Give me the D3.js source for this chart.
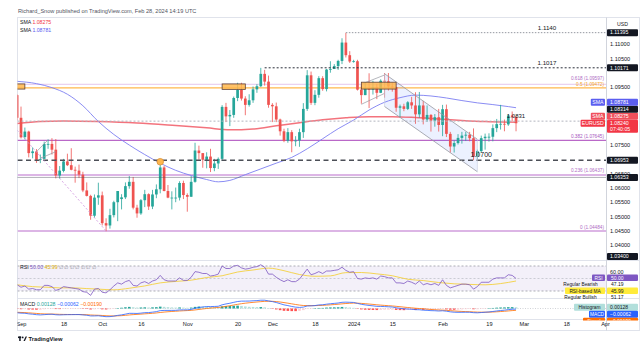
<!DOCTYPE html>
<html><head><meta charset="utf-8">
<script src="https://cdn.jsdelivr.net/npm/d3@7/dist/d3.min.js"></script>
<style>html,body{margin:0;padding:0;background:#fff}svg{display:block}</style>
</head><body>
<svg id="chart" width="640" height="349"></svg>
<script>
// ---------------- DATA ----------------
const dates = [
"2023-08-31","2023-09-01",
"2023-09-04","2023-09-05","2023-09-06","2023-09-07","2023-09-08",
"2023-09-11","2023-09-12","2023-09-13","2023-09-14","2023-09-15",
"2023-09-18","2023-09-19","2023-09-20","2023-09-21","2023-09-22",
"2023-09-25","2023-09-26","2023-09-27","2023-09-28","2023-09-29",
"2023-10-02","2023-10-03","2023-10-04","2023-10-05","2023-10-06",
"2023-10-09","2023-10-10","2023-10-11","2023-10-12","2023-10-13",
"2023-10-16","2023-10-17","2023-10-18","2023-10-19","2023-10-20",
"2023-10-23","2023-10-24","2023-10-25","2023-10-26","2023-10-27",
"2023-10-30","2023-10-31","2023-11-01","2023-11-02","2023-11-03",
"2023-11-06","2023-11-07","2023-11-08","2023-11-09","2023-11-10",
"2023-11-13","2023-11-14","2023-11-15","2023-11-16","2023-11-17",
"2023-11-20","2023-11-21","2023-11-22","2023-11-23","2023-11-24",
"2023-11-27","2023-11-28","2023-11-29","2023-11-30","2023-12-01",
"2023-12-04","2023-12-05","2023-12-06","2023-12-07","2023-12-08",
"2023-12-11","2023-12-12","2023-12-13","2023-12-14","2023-12-15",
"2023-12-18","2023-12-19","2023-12-20","2023-12-21","2023-12-22",
"2023-12-25","2023-12-26","2023-12-27","2023-12-28","2023-12-29",
"2024-01-01","2024-01-02","2024-01-03","2024-01-04","2024-01-05",
"2024-01-08","2024-01-09","2024-01-10","2024-01-11","2024-01-12",
"2024-01-15","2024-01-16","2024-01-17","2024-01-18","2024-01-19",
"2024-01-22","2024-01-23","2024-01-24","2024-01-25","2024-01-26",
"2024-01-29","2024-01-30","2024-01-31","2024-02-01","2024-02-02",
"2024-02-05","2024-02-06","2024-02-07","2024-02-08","2024-02-09",
"2024-02-12","2024-02-13","2024-02-14","2024-02-15","2024-02-16",
"2024-02-19","2024-02-20","2024-02-21","2024-02-22","2024-02-23",
"2024-02-26","2024-02-27","2024-02-28"];

const open = [1.0922,1.0843,
1.0776,1.0795,1.0720,1.0726,1.0697, 1.0700,1.0752,1.0752,1.0732,1.0642,
1.0658,1.0691,1.0678,1.0662,1.0659, 1.0645,1.0590,1.0571,1.0502,1.0565,
1.0573,1.0476,1.0468,1.0504,1.0549, 1.0560,1.0566,1.0605,1.0620,1.0530,
1.0510,1.0556,1.0577,1.0534,1.0576, 1.0594,1.0670,1.0588,1.0565,1.0565,
1.0565,1.0616,1.0574,1.0568,1.0620, 1.0729,1.0720,1.0697,1.0708,1.0668,
1.0684,1.0700,1.0881,1.0848,1.0853, 1.0912,1.0940,1.0910,1.0888,1.0904,
1.0942,1.0953,1.0996,1.0969,1.0888, 1.0883,1.0837,1.0796,1.0763,1.0793,
1.0761,1.0764,1.0793,1.0874,1.0991, 1.0895,1.0923,1.0981,1.0943,1.1011,
1.1013,1.1023,1.1041,1.1105,1.1061, 1.1039,1.1040,1.0941,1.0922,1.0946,
1.0941,1.0950,1.0930,1.0972,1.0970, 1.0952,1.0950,1.0878,1.0883,1.0874,
1.0897,1.0886,1.0855,1.0886,1.0837, 1.0853,1.0833,1.0845,1.0818,1.0873,
1.0787,1.0743,1.0755,1.0773,1.0781, 1.0784,1.0772,1.0708,1.0727,1.0772,
1.0777,1.0777,1.0807,1.0821,1.0822, 1.0820,1.0851,1.0846];

const high = [1.0925,1.0882,
1.0809,1.0798,1.0740,1.0734,1.0715, 1.0760,1.0768,1.0772,1.0769,1.0675,
1.0700,1.0718,1.0737,1.0673,1.0680, 1.0655,1.0618,1.0575,1.0576,1.0617,
1.0586,1.0493,1.0526,1.0554,1.0588, 1.0577,1.0618,1.0640,1.0637,1.0540,
1.0560,1.0592,1.0580,1.0592,1.0611, 1.0694,1.0675,1.0609,1.0587,1.0600,
1.0622,1.0624,1.0580,1.0640,1.0756, 1.0746,1.0720,1.0723,1.0735,1.0700,
1.0705,1.0887,1.0895,1.0870,1.0917, 1.0965,1.0965,1.0918,1.0925,1.0952,
1.0960,1.1017,1.1010,1.0990,1.0894, 1.0896,1.0840,1.0805,1.0807,1.0800,
1.0779,1.0805,1.0894,1.1009,1.1004, 1.0939,1.0988,1.0988,1.1013,1.1040,
1.1030,1.1045,1.1120,1.1139,1.1075, 1.1045,1.1045,1.0956,1.0966,1.0998,
1.0972,1.0961,1.0977,1.0999,1.0999, 1.0965,1.0951,1.0889,1.0892,1.0901,
1.0916,1.0932,1.0933,1.0902,1.0886, 1.0856,1.0856,1.0874,1.0888,1.0889,
1.0794,1.0764,1.0786,1.0794,1.0794, 1.0794,1.0806,1.0732,1.0781,1.0788,
1.0789,1.0820,1.0839,1.0888,1.0837, 1.0855,1.0865,1.0848];

const low = [1.0834,1.0771,
1.0768,1.0705,1.0702,1.0686,1.0685, 1.0700,1.0735,1.0715,1.0632,1.0631,
1.0653,1.0675,1.0660,1.0617,1.0633, 1.0584,1.0569,1.0488,1.0495,1.0540,
1.0468,1.0448,1.0457,1.0496,1.0483, 1.0524,1.0560,1.0596,1.0524,1.0495,
1.0505,1.0532,1.0522,1.0525,1.0563, 1.0580,1.0587,1.0563,1.0524,1.0549,
1.0555,1.0560,1.0516,1.0568,1.0617, 1.0697,1.0669,1.0667,1.0654,1.0657,
1.0665,1.0694,1.0828,1.0814,1.0843, 1.0901,1.0903,1.0852,1.0882,1.0895,
1.0930,1.0950,1.0955,1.0878,1.0828, 1.0828,1.0781,1.0758,1.0756,1.0723,
1.0744,1.0742,1.0773,1.0867,1.0888, 1.0887,1.0913,1.0937,1.0935,1.1000,
1.1013,1.1010,1.1030,1.1053,1.1034, 1.1035,1.0938,1.0892,1.0922,1.0877,
1.0924,1.0908,1.0929,1.0913,1.0938, 1.0934,1.0864,1.0845,1.0866,1.0870,
1.0874,1.0822,1.0843,1.0820,1.0829, 1.0795,1.0812,1.0795,1.0779,1.0776,
1.0722,1.0722,1.0750,1.0753,1.0762, 1.0761,1.0695,1.0698,1.0722,1.0732,
1.0760,1.0761,1.0793,1.0802,1.0796, 1.0815,1.0832,1.0796];

const close = [1.0843,1.0775,
1.0795,1.0720,1.0726,1.0697,1.0699, 1.0752,1.0752,1.0732,1.0642,1.0659,
1.0691,1.0678,1.0662,1.0659,1.0645, 1.0590,1.0571,1.0502,1.0565,1.0573,
1.0476,1.0468,1.0504,1.0549,1.0588, 1.0566,1.0605,1.0620,1.0530,1.0510,
1.0556,1.0577,1.0534,1.0576,1.0594, 1.0670,1.0588,1.0565,1.0565,1.0565,
1.0616,1.0574,1.0568,1.0620,1.0729, 1.0720,1.0697,1.0708,1.0668,1.0684,
1.0700,1.0881,1.0848,1.0853,1.0912, 1.0940,1.0910,1.0888,1.0904,1.0942,
1.0953,1.0996,1.0969,1.0888,1.0883, 1.0837,1.0796,1.0763,1.0793,1.0761,
1.0764,1.0793,1.0874,1.0991,1.0895, 1.0923,1.0981,1.0943,1.1011,1.1013,
1.1023,1.1041,1.1105,1.1061,1.1039, 1.1040,1.0941,1.0922,1.0946,1.0941,
1.0950,1.0930,1.0972,1.0970,1.0952, 1.0950,1.0878,1.0883,1.0874,1.0897,
1.0886,1.0855,1.0886,1.0837,1.0853, 1.0833,1.0845,1.0818,1.0873,1.0787,
1.0743,1.0755,1.0773,1.0781,1.0784, 1.0772,1.0708,1.0727,1.0772,1.0777,
1.0777,1.0807,1.0821,1.0822,1.0820, 1.0851,1.0846,1.0824];

const rsiValues = [40,36,
38,33,34,32,32, 39,39,37,31,33, 37,36,35,34,33, 29,28,23,33,34,
28,27,32,38,43, 41,45,47,39,38, 43,45,42,46,48, 55,48,46,46,46,
51,47,47,52,61, 60,58,58,54,55, 57,70,66,66,70, 71,67,65,66,68,
69,72,68,57,57, 52,48,45,48,45, 45,49,57,65,56, 58,61,58,62,62,
63,64,68,63,60, 61,50,49,51,50, 51,49,54,53,51, 51,43,43,42,46,
44,41,46,40,42, 40,42,39,48,39, 35,37,39,41,41, 40,33,37,44,44,
44,49,51,51,51, 56,55,50];

const rsiMaDates = ["2023-08-31","2023-09-06","2023-09-12","2023-09-15","2023-09-20","2023-09-26","2023-09-29","2023-10-05","2023-10-11","2023-10-17","2023-10-23","2023-10-27","2023-11-02","2023-11-08","2023-11-14","2023-11-20","2023-11-24","2023-11-30","2023-12-06","2023-12-12","2023-12-18","2023-12-22","2023-12-28","2024-01-03","2024-01-09","2024-01-15","2024-01-19","2024-01-25","2024-01-31","2024-02-06","2024-02-12","2024-02-16","2024-02-22","2024-02-28"];
const rsiMaValues = [40,37,36,35,35.1,33.9,33,31.9,34.4,38.1,43,45.3,47.3,51.6,54.4,60.4,63.6,66.6,62.5,56.4,53.6,54.2,59.4,59.6,57.4,54.4,48.8,46.7,43.6,41.5,40.6,39.9,41.9,45.99];

// MACD values in units of 0.0001
const macdValues = [-45,-49.2,
-50.4,-56.7,-60.5,-65.2,-67.9, -65.1,-62.1,-60.7,-66.1,-68.1, -66.4,-65.4,-65.1,-64.4,-64.2,
-67.7,-71.2,-78.6,-78.5,-76.9, -82.5,-86.6,-85.9,-80.8,-72.8, -67.5,-59.4,-51.2,-51.3,-52.4,
-49.0,-44.1,-43.2,-38.6,-33.2, -22.5,-20.4,-20.3,-20.0,-19.5, -14.9,-14.5,-14.5,-10.2,2.0,
10.8,15.8,20.4,20.4,21.6, 23.6,39.2,48.4,55.5,65.1, 74.1,77.9,78.2,78.9,81.6,
83.6,87.7,87.7,80.3,73.2, 63.1,51.1,38.5,30.7,21.6, 14.5,11.1,14.7,26.7,28.1,
31.1,37.7,39.5,45.8,50.4, 54.2,58.1,65.6,67.2,65.8, 64.1,54.2,44.3,38.0,32.2,
28.0,22.7,21.7,20.5,17.9, 15.6,7.8,2.0,-3.3,-5.5, -8.1,-12.5,-13.3,-17.7,-19.7,
-22.7,-23.8,-26.5,-24.0,-28.6, -35.3,-39.3,-40.6,-40.5,-39.7, -39.6,-44.1,-45.6,-42.7,-39.5,
-36.6,-31.5,-26.1,-21.4,-17.6, -12.0,-7.9,-6.3];
const signalValues = [-40,-41.8,
-43.5,-46.1,-49.0,-52.2,-55.4, -57.3,-58.3,-58.8,-60.2,-61.8, -62.7,-63.3,-63.6,-63.8,-63.9,
-64.6,-65.9,-68.5,-70.5,-71.8, -73.9,-76.5,-78.4,-78.9,-77.7, -75.7,-72.4,-68.2,-64.8,-62.3,
-59.7,-56.5,-53.9,-50.8,-47.3, -42.3,-37.9,-34.4,-31.5,-29.1, -26.3,-23.9,-22.0,-19.7,-15.3,
-10.1,-4.9,0.2,4.2,7.7, 10.9,16.5,22.9,29.4,36.6, 44.1,50.8,56.3,60.8,65.0,
68.7,72.5,75.5,76.5,75.8, 73.3,68.9,62.8,56.4,49.4, 42.4,36.1,31.8,30.8,30.3,
30.4,31.9,33.4,35.9,38.8, 41.9,45.1,49.2,52.8,55.4, 57.1,56.5,54.1,50.9,47.2,
43.4,39.3,35.8,32.7,29.7, 26.9,23.1,18.9,14.5,10.5, 6.8,2.9,-0.3,-3.8,-7.0,
-10.1,-12.8,-15.6,-17.3,-19.5, -22.7,-26.0,-28.9,-31.2,-32.9, -34.2,-36.2,-38.1,-39.0,-39.1,
-38.6,-37.2,-35.0,-32.3,-29.4, -25.9,-22.3,-19.1];

const smaSlowDates = ["2023-08-31","2023-09-08","2023-09-18","2023-09-29","2023-10-13","2023-10-27","2023-11-08","2023-11-16","2023-11-24","2023-12-04","2023-12-12","2023-12-20","2023-12-28","2024-01-05","2024-01-15","2024-01-23","2024-01-31","2024-02-08","2024-02-16","2024-02-28"];
const smaSlowValues = [1.0823,1.0830,1.0832,1.0830,1.0825,1.0816,1.0808,1.0801,1.0804,1.0815,1.0826,1.0836,1.0843,1.0847,1.0847,1.0844,1.0839,1.0834,1.0830,1.08275];
const smaFastDates = ["2023-08-31","2023-09-07","2023-09-13","2023-09-19","2023-09-25","2023-09-29","2023-10-05","2023-10-11","2023-10-17","2023-10-23","2023-10-27","2023-11-02","2023-11-08","2023-11-13","2023-11-16","2023-11-22","2023-11-28","2023-12-04","2023-12-08","2023-12-14","2023-12-20","2023-12-26","2024-01-01","2024-01-05","2024-01-11","2024-01-17","2024-01-23","2024-01-29","2024-02-02","2024-02-08","2024-02-14","2024-02-20","2024-02-26","2024-02-28"];
const smaFastValues = [1.0970,1.0962,1.0948,1.0925,1.0885,1.0830,1.0785,1.0748,1.0715,1.0685,1.0660,1.0642,1.0628,1.0620,1.0625,1.0645,1.0665,1.0685,1.0705,1.0735,1.0770,1.0805,1.0835,1.0870,1.0897,1.0913,1.0922,1.0919,1.0912,1.0903,1.0895,1.0889,1.0882,1.08781];

const priceTicks = [1.11,1.105,1.095,1.075,1.065,1.06,1.055,1.05,1.045,1.04];
const timeTickDates = ["2023-09-01","2023-09-18","2023-10-02","2023-10-16","2023-11-01","2023-11-20","2023-12-01","2023-12-18","2024-01-01","2024-01-15","2024-02-01","2024-02-19","2024-03-01","2024-03-18","2024-04-01"];
const timeTickLabels = ["Sep","18","Oct","16","Nov","20","Dec","18","2024","15","Feb","19","Mar","18","Apr"];

const fibRatios = ["0.618","0.5","0.382","0.236","0"];
const fibPrices = [1.09597,1.09472,1.07645,1.06437,1.04484];

const levelNames = ["1.1140","1.1017","1.0831","1.0700"];
const levelPrices = [1.11395,1.10171,1.08314,1.06953];
const levelStarts = ["2023-12-28","2023-11-29","2023-08-31","2023-08-31"];
const levelLabelDates = ["2024-03-11","2024-03-11","2024-02-28","2024-02-15"];
const dottedLevel = 1.06353;

const markerPrices = [1.11395,1.10171,1.08781,1.08314,1.08275,1.08240,1.06953,1.06353,1.03400];
const markerNames  = ["","","SMA","","SMA","EURUSD","","",""];
const markerSub    = ["","","","","","07:40:05","","",""];

const rsiAxisNames  = ["RSI","Regular Bearish","RSI-based MA","Regular Bullish"];
const rsiAxisValues = [50.00,47.19,45.99,51.17];
const macdAxisNames  = ["Histogram","MACD","Signal"];
const macdAxisValues = [0.00128,-0.00062,-0.00190];

// drawings (date, price anchors)
const pennantA = [["2023-09-07",1.0725],["2023-09-12",1.0766]];
const pennantB = [["2023-09-08",1.0702],["2023-09-14",1.0725]];
const trendDotted = [["2023-08-31",1.0800],["2023-10-03",1.0449]];
const swingCircle = ["2023-10-23",1.0690];
const flagA = [["2024-01-03",1.0890],["2024-01-11",1.0928]];
const flagB = [["2024-01-03",1.0960],["2024-01-11",1.0992]];
const channelUpper = [["2024-01-11",1.09965],["2024-02-14",1.07681]];
const channelLower = [["2024-01-11",1.08823],["2024-02-14",1.06552]];
const zoneBoxes = [[["2023-08-29",1.0961],["2023-09-04",1.0943]],
                   [["2023-11-14",1.0961],["2023-11-22",1.0942]],
                   [["2024-01-03",1.0967],["2024-01-16",1.0943]]];

// ---------------- SETUP ----------------
const FONT = "'Liberation Sans', Arial, Helvetica, sans-serif";
const svg = d3.select("#chart").style("font-family", FONT);
const L = 17.5, R = 606, T = 17.5, MB = 260, RB = 298, XB = 319, B = 330.5;

const base = new Date(Date.UTC(2023, 8, 1));
function barIndex(s) {
  const d = new Date(s + "T00:00:00Z");
  let n = 0, t;
  if (d < base) {
    t = new Date(d);
    while (t < base) { const w = t.getUTCDay(); if (w > 0 && w < 6) n--; t.setUTCDate(t.getUTCDate() + 1); }
  } else {
    t = new Date(base);
    while (t < d) { const w = t.getUTCDay(); if (w > 0 && w < 6) n++; t.setUTCDate(t.getUTCDate() + 1); }
  }
  return n;
}
const idx = dates.map(barIndex);

const x = d3.scaleLinear().domain([0, 151]).range([21, 605]);
const y = d3.scaleLinear().domain([1.11, 1.04]).range([44, 245]);
const yR = d3.scaleLinear().domain([70, 30]).range([266, 291]);
const yM = d3.scaleLinear().domain([-90, 90]).range([317, 300]);

const defs = svg.append("defs");
function clip(id, x0, y0, w, h) { defs.append("clipPath").attr("id", id).append("rect").attr("x", x0).attr("y", y0).attr("width", w).attr("height", h); }
clip("cMain", L, T, R - L, MB - T);
clip("cRsi", L, MB, R - L, RB - MB);
clip("cMacd", L, RB, R - L, XB - RB);
clip("cTime", L, XB, 610 - L, B - XB);
clip("cMacdAxis", 560, RB, 80, XB - RB + 1.5);

// header
svg.append("text").attr("x", 18).attr("y", 13).attr("font-size", 5.6).attr("fill", "#50535e")
  .text("Richard_Snow published on TradingView.com, Feb 28, 2024 14:19 UTC");

// frame
svg.append("rect").attr("x", L).attr("y", T).attr("width", 639.5 - L).attr("height", B - T)
  .attr("fill", "none").attr("stroke", "#e0e3eb");
[MB, RB, XB].forEach(v => svg.append("line").attr("x1", L).attr("x2", 639.5).attr("y1", v + 0.5).attr("y2", v + 0.5).attr("stroke", "#e0e3eb"));
svg.append("line").attr("x1", R + 0.5).attr("x2", R + 0.5).attr("y1", T).attr("y2", B).attr("stroke", "#d1d4dc");

// ---------------- MAIN PANE ----------------
const gm = svg.append("g").attr("clip-path", "url(#cMain)");
const P = (d, p) => [x(barIndex(d)), y(p)];

// fib lines
const fibColor = ["#e4c6ec", "#ffb74d", "#ba68c8", "#dcb5e5", "#dcb5e5"];
const fibWidth = [1, 1.3, 1.4, 2, 2];
const fibText = ["#b06cc4", "#f5a623", "#a855c0", "#b06cc4", "#b06cc4"];
const fibGap = [4, 2.2, 2.6, 2.6, 2.6];
fibPrices.forEach((p, i) => {
  gm.append("line").attr("x1", L).attr("x2", R).attr("y1", y(p)).attr("y2", y(p))
    .attr("stroke", fibColor[i]).attr("stroke-width", fibWidth[i]);
  gm.append("text").attr("x", R - 2).attr("y", y(p) - fibGap[i]).attr("text-anchor", "end")
    .attr("font-size", 4.7).attr("fill", fibText[i]).text(`${fibRatios[i]} (${d3.format(".5f")(p)})`);
});

// descending channel fill
const cu = channelUpper.map(a => P(...a)), cl = channelLower.map(a => P(...a));
gm.append("path").attr("d", d3.line()([cu[0], cu[1], cl[1], cl[0]]) + "Z")
  .attr("fill", "rgba(41,98,255,0.09)").attr("stroke", "none");

// moving averages
const lineGen = d3.line().curve(d3.curveMonotoneX);
gm.append("path").attr("d", lineGen(smaSlowDates.map((d, i) => P(d, smaSlowValues[i]))))
  .attr("fill", "none").attr("stroke", "#f0505c").attr("stroke-opacity", 0.8).attr("stroke-width", 1.5);
gm.append("path").attr("d", lineGen(smaFastDates.map((d, i) => P(d, smaFastValues[i]))))
  .attr("fill", "none").attr("stroke", "#7d7ff2").attr("stroke-width", 0.9);

// candles
const up = "#26a69a", dn = "#ef5350";
const cg = gm.append("g");
dates.forEach((d, i) => {
  const cx = x(idx[i]);
  const col = close[i] >= open[i] ? up : dn;
  cg.append("line").attr("x1", cx).attr("x2", cx).attr("y1", y(high[i])).attr("y2", y(low[i]))
    .attr("stroke", col).attr("stroke-width", 0.8);
  const y0 = y(Math.max(open[i], close[i])), y1 = y(Math.min(open[i], close[i]));
  cg.append("rect").attr("x", cx - 1.35).attr("width", 2.7).attr("y", y0).attr("height", Math.max(0.8, y1 - y0)).attr("fill", col);
});

// horizontal levels
const lvlStyle = [
  {c: "#9598a1", w: 1, dash: "1.5,1.5"},
  {c: "#2a2e39", w: 1, dash: "2,2"},
  {c: "#b2b5be", w: 1, dash: "2,2"},
  {c: "#4c4f57", w: 1.4, dash: "5,3.5"}];
const lvlFont = [6.2, 6.2, 6, 7];
levelPrices.forEach((p, i) => {
  const s = lvlStyle[i];
  gm.append("line").attr("x1", Math.max(L, x(barIndex(levelStarts[i])))).attr("x2", R).attr("y1", y(p)).attr("y2", y(p))
    .attr("stroke", s.c).attr("stroke-width", s.w).attr("stroke-dasharray", s.dash);
  gm.append("text").attr("x", x(barIndex(levelLabelDates[i]))).attr("y", y(p) - 2.8).attr("text-anchor", "middle")
    .attr("font-size", lvlFont[i]).attr("fill", "#131722").text(levelNames[i]);
});
gm.append("line").attr("x1", L).attr("x2", R).attr("y1", y(dottedLevel)).attr("y2", y(dottedLevel))
  .attr("stroke", "#50535e").attr("stroke-width", 0.9).attr("stroke-dasharray", "1,1");

// drawings
const seg = (pair, col, w, dash) => {
  const a = P(...pair[0]), b = P(...pair[1]);
  gm.append("line").attr("x1", a[0]).attr("y1", a[1]).attr("x2", b[0]).attr("y2", b[1])
    .attr("stroke", col).attr("stroke-width", w).attr("stroke-dasharray", dash || null);
};
seg(trendDotted, "#d39be0", 0.9, "2,2");
seg(pennantA, "#9598a1", 0.7); seg(pennantB, "#9598a1", 0.7);
seg(flagA, "#9598a1", 0.7); seg(flagB, "#9598a1", 0.7);
seg(channelUpper, "#9598a1", 0.8); seg(channelLower, "#9598a1", 0.8);
gm.append("line").attr("x1", cu[0][0]).attr("x2", cl[0][0]).attr("y1", cu[0][1]).attr("y2", cl[0][1]).attr("stroke", "#c5cbe0").attr("stroke-width", 0.6);
gm.append("line").attr("x1", cu[1][0]).attr("x2", cl[1][0]).attr("y1", cu[1][1]).attr("y2", cl[1][1]).attr("stroke", "#c5cbe0").attr("stroke-width", 0.6);
zoneBoxes.forEach(bx => {
  const a = P(...bx[0]), b = P(...bx[1]);
  gm.append("rect").attr("x", a[0]).attr("y", a[1]).attr("width", b[0] - a[0]).attr("height", b[1] - a[1])
    .attr("fill", "#ffb74d").attr("fill-opacity", 0.85).attr("stroke", "#5d4037").attr("stroke-width", 0.8);
});
const sc = P(...swingCircle);
gm.append("circle").attr("cx", sc[0]).attr("cy", sc[1]).attr("r", 3.3).attr("fill", "#ffb74d").attr("stroke", "#d9913a").attr("stroke-width", 0.8);

// legend
const leg = svg.append("g").attr("font-size", 5.2);
let t1 = leg.append("text").attr("x", 20).attr("y", 24);
t1.append("tspan").attr("fill", "#131722").text("SMA ");
t1.append("tspan").attr("fill", "#f23645").text(d3.format(".5f")(smaSlowValues[smaSlowValues.length - 1]));
let t2 = leg.append("text").attr("x", 20).attr("y", 31.5);
t2.append("tspan").attr("fill", "#131722").text("SMA ");
t2.append("tspan").attr("fill", "#5b5ef0").text(d3.format(".5f")(smaFastValues[smaFastValues.length - 1]));

// price axis
const ax = svg.append("g").attr("transform", `translate(${R},0)`)
  .call(d3.axisRight(y).tickValues(priceTicks).tickFormat(d3.format(".5f")).tickSize(0).tickPadding(4));
ax.select(".domain").remove();
ax.selectAll("text").attr("font-size", 5.6).attr("fill", "#131722").attr("font-family", FONT);
svg.append("text").attr("x", 617).attr("y", 26).attr("font-size", 5.2).attr("fill", "#131722").text("USD");

// price markers with collision stacking
const mBg = ["#131722", "#131722", "#5b5ef0", "#131722", "#f0505c", "#f23645", "#131722", "#131722", "#131722"];
const order = markerPrices.map((p, i) => i).sort((a, b) => markerPrices[a] - markerPrices[b]);
let limit = MB;
const mg = svg.append("g").attr("font-size", 5.2);
order.forEach(i => {
  const h = markerSub[i] ? 13 : 7;
  let top = y(markerPrices[i]) - 3.5;
  if (top + h > limit) top = limit - h;
  limit = top;
  mg.append("rect").attr("x", 607).attr("y", top).attr("width", 31).attr("height", h).attr("rx", 1).attr("fill", mBg[i]);
  mg.append("text").attr("x", 610).attr("y", top + 5.3).attr("fill", "#fff").text(d3.format(".5f")(markerPrices[i]));
  if (markerSub[i]) mg.append("text").attr("x", 610).attr("y", top + 11.3).attr("fill", "#fff").text(markerSub[i]);
  if (markerNames[i]) {
    const w = markerNames[i].length * 3.4 + 4;
    mg.append("rect").attr("x", 605 - w).attr("y", top).attr("width", w).attr("height", 7).attr("rx", 1).attr("fill", mBg[i]);
    mg.append("text").attr("x", 605 - w / 2).attr("y", top + 5.3).attr("text-anchor", "middle").attr("fill", "#fff").text(markerNames[i]);
  }
});

// ---------------- RSI PANE ----------------
const gr = svg.append("g").attr("clip-path", "url(#cRsi)");
gr.append("rect").attr("x", L).attr("width", R - L).attr("y", yR(70)).attr("height", yR(30) - yR(70)).attr("fill", "rgba(126,87,194,0.09)");
[70, 30].forEach(v => gr.append("line").attr("x1", L).attr("x2", R).attr("y1", yR(v)).attr("y2", yR(v)).attr("stroke", "#8a8d96").attr("stroke-width", 0.7).attr("stroke-dasharray", "2,2"));
gr.append("line").attr("x1", L).attr("x2", R).attr("y1", yR(50)).attr("y2", yR(50)).attr("stroke", "#b0b3bb").attr("stroke-width", 0.6).attr("stroke-dasharray", "2,2");
gr.append("path").attr("d", lineGen(rsiMaDates.map((d, i) => [x(barIndex(d)), yR(rsiMaValues[i])])))
  .attr("fill", "none").attr("stroke", "#f4d03f").attr("stroke-width", 0.9);
gr.append("path").attr("d", d3.line()(dates.map((d, i) => [x(idx[i]), yR(rsiValues[i])])))
  .attr("fill", "none").attr("stroke", "#7e57c2").attr("stroke-width", 0.8);
let rl = svg.append("text").attr("x", 20).attr("y", 268.5).attr("font-size", 5.2);
rl.append("tspan").attr("fill", "#131722").text("RSI ");
rl.append("tspan").attr("fill", "#7e57c2").text(d3.format(".2f")(rsiValues[rsiValues.length - 1]) + " ");
rl.append("tspan").attr("fill", "#e0b000").text(d3.format(".2f")(rsiMaValues[rsiMaValues.length - 1]) + " ");
rl.append("tspan").attr("fill", "#9598a1").text("∅ ∅ ∅ ∅ ∅ ∅ ∅");

svg.append("text").attr("x", 610).attr("y", yR(60) + 2).attr("font-size", 5.4).attr("fill", "#131722").text("60.00");
const rBg = ["#7e57c2", null, "#ffeb3b", null];
const rFg = ["#fff", "#131722", "#131722", "#131722"];
rsiAxisNames.forEach((n, i) => {
  const top = yR(rsiAxisValues[0]) - 4 + i * 6.5;
  const w = n.length * 3.0 + 4;
  if (rBg[i]) {
    svg.append("rect").attr("x", 607).attr("y", top).attr("width", 31).attr("height", 6.5).attr("rx", 1).attr("fill", rBg[i]);
    svg.append("rect").attr("x", 605 - w).attr("y", top).attr("width", w).attr("height", 6.5).attr("rx", 1).attr("fill", rBg[i]);
  }
  svg.append("text").attr("x", 611).attr("y", top + 5).attr("font-size", 5).attr("fill", rFg[i]).text(d3.format(".2f")(rsiAxisValues[i]));
  svg.append("text").attr("x", 605 - w / 2).attr("y", top + 5).attr("text-anchor", "middle").attr("font-size", 4.8).attr("fill", rFg[i]).text(n);
});

// ---------------- MACD PANE ----------------
const gmc = svg.append("g").attr("clip-path", "url(#cMacd)");
gmc.append("line").attr("x1", L).attr("x2", R).attr("y1", yM(0)).attr("y2", yM(0)).attr("stroke", "#b2b5be").attr("stroke-width", 0.6).attr("stroke-dasharray", "1,1.5");
const hist = macdValues.map((m, i) => m - signalValues[i]);
hist.forEach((h, i) => {
  const prev = i > 0 ? hist[i - 1] : h;
  const col = h >= 0 ? (h >= prev ? "#26a69a" : "#b2dfdb") : (h <= prev ? "#ff5252" : "#ffcdd2");
  const a = yM(0), b = yM(h);
  gmc.append("rect").attr("x", x(idx[i]) - 1.3).attr("width", 2.6).attr("y", Math.min(a, b)).attr("height", Math.max(0.4, Math.abs(b - a))).attr("fill", col);
});
gmc.append("path").attr("d", d3.line()(dates.map((d, i) => [x(idx[i]), yM(signalValues[i])])))
  .attr("fill", "none").attr("stroke", "#ff6d00").attr("stroke-width", 0.8);
gmc.append("path").attr("d", d3.line()(dates.map((d, i) => [x(idx[i]), yM(macdValues[i])])))
  .attr("fill", "none").attr("stroke", "#2962ff").attr("stroke-width", 0.8);
let ml = svg.append("text").attr("x", 20).attr("y", 305.5).attr("font-size", 5.2);
ml.append("tspan").attr("fill", "#131722").text("MACD ");
ml.append("tspan").attr("fill", "#26a69a").text(d3.format(".5f")(macdAxisValues[0]) + " ");
ml.append("tspan").attr("fill", "#2962ff").text(d3.format(".5f")(macdAxisValues[1]) + " ");
ml.append("tspan").attr("fill", "#ff6d00").text(d3.format(".5f")(macdAxisValues[2]));

const mcBg = ["#b2dfdb", "#2962ff", "#ff6d00"];
const mcFg = ["#131722", "#fff", "#fff"];
const gma = svg.append("g").attr("clip-path", "url(#cMacdAxis)");
macdAxisNames.forEach((n, i) => {
  const top = yM(macdAxisValues[0] * 1e4) - 3.5 + i * 7;
  const w = n.length * 3.0 + 4;
  gma.append("rect").attr("x", 607).attr("y", top).attr("width", 31).attr("height", 7).attr("rx", 1).attr("fill", mcBg[i]);
  gma.append("rect").attr("x", 605 - w).attr("y", top).attr("width", w).attr("height", 7).attr("rx", 1).attr("fill", mcBg[i]);
  gma.append("text").attr("x", 610).attr("y", top + 5.2).attr("font-size", 5).attr("fill", mcFg[i]).text(d3.format(".5f")(macdAxisValues[i]));
  gma.append("text").attr("x", 605 - w / 2).attr("y", top + 5.2).attr("text-anchor", "middle").attr("font-size", 4.8).attr("fill", mcFg[i]).text(n);
});

// ---------------- TIME AXIS ----------------
const gt = svg.append("g").attr("clip-path", "url(#cTime)");
const tax = gt.append("g").attr("transform", `translate(0,${XB})`)
  .call(d3.axisBottom(x).tickValues(timeTickDates.map(barIndex)).tickFormat((d, i) => timeTickLabels[i]).tickSize(0).tickPadding(2.8));
tax.select(".domain").remove();
tax.selectAll("text").attr("font-size", 5.6).attr("fill", "#131722").attr("font-family", FONT);

// footer logo
const lg = svg.append("g");
lg.append("rect").attr("x", 18).attr("y", 336.5).attr("width", 3.2).attr("height", 1.6).attr("fill", "#131722");
lg.append("rect").attr("x", 19.2).attr("y", 336.5).attr("width", 1.5).attr("height", 4.5).attr("fill", "#131722");
lg.append("circle").attr("cx", 22.7).attr("cy", 337.4).attr("r", 0.9).attr("fill", "#131722");
lg.append("path").attr("d", "M23.5,341 L25.6,336.5 L27,336.5 L24.9,341 Z").attr("fill", "#131722");
lg.append("text").attr("x", 28.5).attr("y", 341).attr("font-size", 5.8).attr("font-weight", "bold").attr("fill", "#131722").text("TradingView");
</script>
</body></html>
